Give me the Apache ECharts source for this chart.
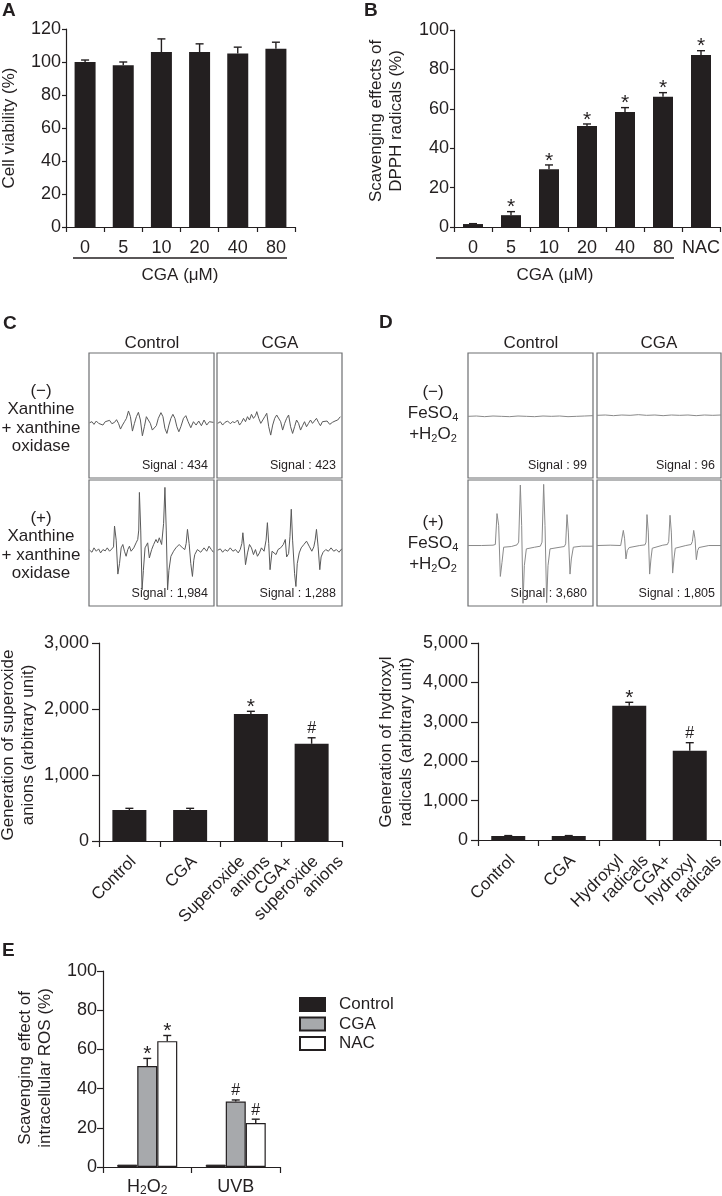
<!DOCTYPE html>
<html><head><meta charset="utf-8">
<script src="https://cdn.jsdelivr.net/npm/echarts@6/dist/echarts.min.js"></script>
<style>html,body{margin:0;padding:0;background:#fff}#c{width:722px;height:1196px}</style>
</head><body><div id="c"></div>
<script>
const FONT = "'Liberation Sans', Arial, Helvetica, sans-serif";
const INK = '#231f20';

// ---------- Panel A ----------
const catA = ['0', '5', '10', '20', '40', '80'];
const valA = [100, 98.1, 106, 106, 105.2, 108];
const errA = [101.2, 100, 114, 111, 109, 112];
const markA = ['', '', '', '', '', ''];

// ---------- Panel B ----------
const catB = ['0', '5', '10', '20', '40', '80', 'NAC'];
const valB = [1.5, 6, 29.3, 51.3, 58.4, 66.1, 87.3];
const errB = [1.7, 7.8, 31.5, 52.3, 60.6, 68.2, 89.5];
const markB = ['', '*', '*', '*', '*', '*', '*'];

// ---------- Panel C (bars) ----------
const catC = ['Control', 'CGA', 'Superoxide\nanions', 'CGA+\nsuperoxide\nanions'];
const valC = [470, 470, 1926, 1473];
const errC = [495, 495, 1965, 1564];
const markC = ['', '', '*', '#'];

// ---------- Panel D (bars) ----------
const catD = ['Control', 'CGA', 'Hydroxyl\nradicals', 'CGA+\nhydroxyl\nradicals'];
const valD = [100, 100, 3408, 2266];
const errD = [112, 112, 3495, 2470];
const markD = ['', '', '*', '#'];

// ---------- Panel E ----------
const catE = ['H2O2', 'UVB'];
const seriesE = ['Control', 'CGA', 'NAC'];
const eControl = [1.2, 1.2];
const eCGA = [51.5, 33.4];
const eNAC = [64.2, 22.4];
const eCGAerr = [55.4, 34.2];
const eNACerr = [67.1, 24.4];
const eCGAmark = ['*', '#'];
const eNACmark = ['*', '#'];

// ---------- ESR spectra (field position, amplitude) ----------
const esrC1ctrl = [[2,0],[9,3],[15,-5],[22,5],[29,-2],[35,1],[42,-7],[49,3],[55,-1],[62,7],[69,-3],[77,1],[83,9],[89,-2],[95,-19],[101,-7],[107,3],[113,13],[119,35],[125,18],[131,-25],[137,-2],[143,18],[149,31],[155,8],[161,-39],[167,-12],[173,18],[179,23],[185,-2],[191,-22],[197,-27],[203,-9],[209,13],[217,30],[223,18],[229,-17],[235,-32],[241,-7],[247,13],[253,25],[259,13],[265,-12],[271,-27],[277,-12],[285,13],[292,21],[299,3],[307,-15],[315,3],[323,-7],[331,5],[339,-9],[347,8],[355,-7],[363,3],[369,-2],[375,1]];
const esrC1cga = [[2,-2],[10,3],[17,-7],[24,1],[32,5],[40,-3],[47,3],[54,0],[62,8],[68,-7],[74,1],[80,13],[86,3],[92,18],[98,8],[104,25],[110,13],[116,21],[120,33],[126,13],[132,-2],[138,8],[144,18],[150,28],[156,-12],[162,-37],[168,-7],[174,13],[180,23],[186,28],[192,3],[198,-22],[204,-2],[210,13],[216,23],[222,-12],[228,-32],[234,-12],[240,8],[246,-2],[252,-22],[258,-9],[264,3],[270,-12],[276,-2],[282,8],[288,-2],[294,3],[300,13],[306,1],[312,-9],[318,3],[324,-2],[332,5],[340,-5],[348,1],[356,5],[364,8],[372,18]];
const esrC2ctrl = [[2,0],[9,-6],[15,7],[22,-3],[29,4],[35,-8],[42,2],[49,-2],[55,7],[62,-3],[69,4],[74,10],[77,72],[82,30],[87,-71],[92,-40],[97,7],[102,17],[107,-3],[112,-18],[117,2],[122,12],[127,-3],[135,7],[142,22],[147,32],[150,60],[152,172],[156,60],[160,-118],[164,-60],[169,7],[177,22],[182,-23],[189,2],[195,17],[202,32],[207,22],[212,37],[219,17],[225,80],[229,187],[233,60],[237,-118],[241,-60],[247,-18],[255,-3],[262,7],[272,17],[282,7],[289,2],[293,20],[297,62],[302,20],[307,-40],[312,-78],[316,-30],[319,-13],[327,2],[337,-6],[347,7],[355,-3],[362,12],[369,2],[375,-6]];
const esrC2cga = [[2,0],[10,4],[17,-6],[24,2],[32,-3],[40,7],[48,-3],[56,2],[64,-8],[70,2],[75,20],[78,52],[82,10],[86,-43],[92,-8],[98,17],[104,7],[110,-13],[116,2],[122,-18],[128,-8],[134,7],[142,-3],[148,30],[152,82],[156,20],[160,-58],[166,-3],[172,2],[178,-13],[184,2],[192,7],[200,17],[206,32],[210,-20],[216,-10],[220,40],[224,122],[228,30],[234,-70],[238,-108],[242,-40],[248,-8],[254,7],[262,17],[270,27],[278,12],[286,-3],[292,10],[296,30],[300,62],[305,10],[310,-58],[314,-20],[320,-6],[328,2],[336,-3],[344,7],[352,-3],[360,2],[368,-6],[376,4]];
const esrD1ctrl = [[0,0],[25,1],[50,-1],[75,1],[100,0],[125,-1],[150,1],[175,0],[200,-1],[225,1],[250,0],[275,1],[300,-1],[325,0],[350,1],[375,2]];
const esrD1cga = [[0,3],[25,4],[50,2],[75,4],[100,3],[125,5],[150,3],[175,4],[200,2],[225,4],[250,3],[275,4],[300,2],[325,4],[350,3],[375,4]];
const esrD2ctrl = [[0,0],[40,0],[75,1],[82,3],[87,95],[92,60],[97,-92],[102,-50],[107,-5],[130,-3],[147,2],[152,10],[157,180],[161,60],[165,-172],[169,-60],[175,-10],[200,-5],[217,-2],[222,10],[227,182],[231,60],[236,-170],[240,-60],[246,-10],[270,-6],[289,-3],[293,5],[297,92],[301,40],[306,-85],[310,-40],[316,-5],[340,-2],[375,-2]];
const esrD2cga = [[0,0],[40,1],[72,0],[76,3],[80,45],[84,20],[88,-40],[92,-15],[98,-6],[130,0],[146,2],[149,10],[152,92],[156,40],[160,-85],[164,-40],[168,-8],[200,1],[214,3],[218,12],[222,90],[226,40],[230,-82],[234,-40],[238,-8],[270,0],[286,3],[290,12],[294,45],[298,20],[302,-42],[306,-15],[310,-6],[340,0],[377,0]];

const signalC = ['Signal : 434', 'Signal : 423', 'Signal : 1,984', 'Signal : 1,288'];
const signalD = ['Signal : 99', 'Signal : 96', 'Signal : 3,680', 'Signal : 1,805'];

// ---------------------------------------------------------------
const chart = echarts.init(document.getElementById('c'), null, {renderer: 'canvas', width: 722, height: 1196});

const axLine = {show: true, lineStyle: {color: INK, width: 1.2}};
const tick = len => ({show: true, length: len, lineStyle: {color: INK, width: 1.2}});
const lblBase = {color: INK, fontFamily: FONT, fontSize: 18};
const comma = v => Number(v).toLocaleString('en-US');

function gridAt(l, t, w, h, show) {
  return {left: l, top: t, width: w, height: h, containLabel: false, outerBoundsMode: 'none',
    show: !!show, borderColor: '#6d6e71', borderWidth: 1.2, backgroundColor: 'transparent'};
}

const grids = [
  gridAt(66, 29, 229, 198),     // A
  gridAt(454, 30, 266, 197),    // B
  gridAt(99, 643, 243, 198),    // C bars
  gridAt(478, 643, 242, 197),   // D bars
  gridAt(103, 971, 177, 196),   // E
  gridAt(89, 353, 125, 125, true),   // C1 ctrl
  gridAt(217, 353, 125, 125, true),  // C1 cga
  gridAt(89, 480, 125, 126, true),   // C2 ctrl
  gridAt(217, 480, 125, 126, true),  // C2 cga
  gridAt(468, 353, 125, 125, true),  // D1 ctrl
  gridAt(597, 353, 124, 125, true),  // D1 cga
  gridAt(468, 480, 125, 126, true),  // D2 ctrl
  gridAt(597, 480, 124, 126, true)   // D2 cga
];

function catX(gi, data, tl, label) {
  return {gridIndex: gi, type: 'category', data: data, axisLine: axLine, axisTick: tick(tl),
    axisLabel: Object.assign({interval: 0, margin: 12}, lblBase, label || {}), splitLine: {show: false}};
}
function valY(gi, max, interval, tl, margin, fmt) {
  return {gridIndex: gi, type: 'value', min: 0, max: max, interval: interval, axisLine: axLine, axisTick: tick(tl),
    axisLabel: Object.assign({margin: margin, formatter: fmt}, lblBase), splitLine: {show: false}};
}

const xAxes = [
  catX(0, catA, 5), catX(1, catB, 5), catX(2, catC, 6, {show: false}), catX(3, catD, 6, {show: false}),
  catX(4, catE, 6, {margin: 10, formatter: v => v === 'H2O2' ? '{n|H}{s|2}{n|O}{s|2}' : '{n|' + v + '}',
    rich: {n: {fontSize: 18, lineHeight: 20, fontFamily: FONT, color: INK},
           s: {fontSize: 12, lineHeight: 12, verticalAlign: 'bottom', fontFamily: FONT, color: INK}}})
];
const yAxes = [
  valY(0, 120, 20, 4, 5), valY(1, 100, 20, 4, 5), valY(2, 3000, 1000, 7, 10, comma), valY(3, 5000, 1000, 7, 10, comma),
  valY(4, 100, 20, 6, 6)
];
const esrRanges = [
  [0, 377, -165, 208], [0, 377, -165, 208], [0, 377, -166, 209], [0, 377, -166, 209],
  [0, 375, -185, 190], [0, 375, -185, 190], [0, 375, -180, 195], [0, 377, -180, 195]
];
esrRanges.forEach((r, k) => {
  xAxes.push({gridIndex: 5 + k, type: 'value', min: r[0], max: r[1], show: false});
  yAxes.push({gridIndex: 5 + k, type: 'value', min: r[2], max: r[3], show: false});
});

function errRender(marks, offsets) {
  return function (params, api) {
    const i = params.dataIndex;
    const cat = api.value(0);
    const off = offsets ? offsets[i] : 0;
    const p0 = api.coord([cat, api.value(1)]);
    const p1 = api.coord([cat, api.value(2)]);
    const x = p0[0] + off;
    const ch = [
      {type: 'line', shape: {x1: x, y1: p0[1], x2: x, y2: p1[1]}, style: {stroke: INK, lineWidth: 1.4}},
      {type: 'line', shape: {x1: x - 4, y1: p1[1], x2: x + 4, y2: p1[1]}, style: {stroke: INK, lineWidth: 1.4}}
    ];
    const m = marks[i];
    if (m) {
      const isStar = m === '*';
      ch.push({type: 'text', x: x, y: p1[1] - (isStar ? 4 : 9),
        style: {text: m, fill: INK, fontFamily: FONT, fontSize: isStar ? 21 : 16,
          align: 'center', verticalAlign: 'middle', textAlign: 'center', textVerticalAlign: 'middle'}});
    }
    return {type: 'group', children: ch};
  };
}
// rotated, multi-line category labels (each line ends at the same height below the axis)
function rotLabelRender(cats) {
  return function (params, api) {
    const i = api.value(0);
    const p = api.coord([i, 0]);
    const lines = cats[i].split('\n');
    const n = lines.length;
    return {type: 'group', children: lines.map((ln, k) => ({
      type: 'text', x: p[0] + 4 + (k - (n - 1) / 2) * 25, y: p[1] + 18, rotation: Math.PI / 4,
      style: {text: ln, fill: INK, fontFamily: FONT, fontSize: 17,
        align: 'right', verticalAlign: 'middle', textAlign: 'right', textVerticalAlign: 'middle'}
    }))};
  };
}
function errData(vals, errs) { return vals.map((v, i) => [i, v, errs[i]]); }

const series = [];
function barSet(gi, vals, errs, marks, bw) {
  series.push({type: 'bar', name: 'bars' + gi, xAxisIndex: gi, yAxisIndex: gi, data: vals, barWidth: bw,
    itemStyle: {color: INK}, silent: true});
  series.push({type: 'custom', name: 'err' + gi, xAxisIndex: gi, yAxisIndex: gi, data: errData(vals, errs),
    renderItem: errRender(marks, null), z: 5, silent: true});
}
barSet(0, valA, errA, markA, 21);
barSet(1, valB, errB, markB, 20);
barSet(2, valC, errC, markC, 34);
barSet(3, valD, errD, markD, 34);
series.push({type: 'custom', name: 'labC', xAxisIndex: 2, yAxisIndex: 2, data: catC.map((c, i) => [i, 0]),
  renderItem: rotLabelRender(catC), clip: false, silent: true});
series.push({type: 'custom', name: 'labD', xAxisIndex: 3, yAxisIndex: 3, data: catD.map((c, i) => [i, 0]),
  renderItem: rotLabelRender(catD), clip: false, silent: true});

// Panel E grouped bars
series.push({type: 'bar', name: 'Control', xAxisIndex: 4, yAxisIndex: 4, data: eControl, barWidth: 20, barGap: '0%',
  itemStyle: {color: INK, borderColor: INK, borderWidth: 1}});
series.push({type: 'bar', name: 'CGA', xAxisIndex: 4, yAxisIndex: 4, data: eCGA, barWidth: 20, barGap: '0%',
  itemStyle: {color: '#a7a9ac', borderColor: INK, borderWidth: 1.2}});
series.push({type: 'bar', name: 'NAC', xAxisIndex: 4, yAxisIndex: 4, data: eNAC, barWidth: 20, barGap: '0%',
  itemStyle: {color: '#ffffff', borderColor: INK, borderWidth: 1.2}});
const eErrData = [], eMarks = [], eOff = [];
catE.forEach((c, i) => {
  eErrData.push([i, eCGA[i], eCGAerr[i]]); eMarks.push(eCGAmark[i]); eOff.push(0);
  eErrData.push([i, eNAC[i], eNACerr[i]]); eMarks.push(eNACmark[i]); eOff.push(20);
});
series.push({type: 'custom', name: 'errE', xAxisIndex: 4, yAxisIndex: 4, data: eErrData,
  renderItem: errRender(eMarks, eOff), z: 5, silent: true});

// ESR traces
const esrData = [esrC1ctrl, esrC1cga, esrC2ctrl, esrC2cga, esrD1ctrl, esrD1cga, esrD2ctrl, esrD2cga];
esrData.forEach((d, k) => {
  series.push({type: 'line', name: 'esr' + k, xAxisIndex: 5 + k, yAxisIndex: 5 + k, data: d,
    showSymbol: false, smooth: false, silent: true,
    lineStyle: {color: k < 4 ? '#5a5a5a' : '#8a8a8a', width: 1}});
});

// ---------- text graphics ----------
const g = [];
function txt(x, y, text, o) {
  g.push(Object.assign({type: 'text', x: x, y: y, silent: true,
    style: Object.assign({text: text, fill: INK, fontFamily: FONT, fontSize: 17,
      align: 'center', verticalAlign: 'middle', textAlign: 'center', textVerticalAlign: 'middle'}, o && o.style || {})},
    o && o.el || {}));
}
// panel letters
[['A', 2, 11], ['B', 364, 11], ['C', 3, 324], ['D', 379, 323], ['E', 2, 951]].forEach(p =>
  txt(p[1], p[2], p[0], {style: {fontWeight: 'bold', fontSize: 19, align: 'left', textAlign: 'left'}}));
// y titles
const rot = {el: {rotation: Math.PI / 2}, style: {lineHeight: 20}};
txt(9, 128, 'Cell viability (%)', rot);
txt(386, 121, 'Scavenging effects of\nDPPH radicals (%)', rot);
txt(18, 745, 'Generation of superoxide\nanions (arbitrary unit)', rot);
txt(396, 742, 'Generation of hydroxyl\nradicals (arbitrary unit)', rot);
txt(35, 1068, 'Scavenging effect of\nintracellular ROS (%)', rot);
// underline + CGA (µM)
g.push({type: 'line', silent: true, shape: {x1: 73, y1: 258, x2: 287, y2: 258}, style: {stroke: INK, lineWidth: 1.3}});
g.push({type: 'line', silent: true, shape: {x1: 436, y1: 258, x2: 674, y2: 258}, style: {stroke: INK, lineWidth: 1.3}});
txt(180, 275, 'CGA (\u03bcM)');
txt(555, 275, 'CGA (\u03bcM)');
// column headers
txt(152, 343, 'Control'); txt(280, 343, 'CGA');
txt(531, 343, 'Control'); txt(659, 343, 'CGA');
// row labels C
txt(41, 419, '(\u2212)\nXanthine\n+ xanthine\noxidase', {style: {lineHeight: 18.5}});
txt(41, 546, '(+)\nXanthine\n+ xanthine\noxidase', {style: {lineHeight: 18.5}});
// row labels D (rich subscripts)
const richD = {n: {fontSize: 17, lineHeight: 21, fontFamily: FONT, color: INK},
               s: {fontSize: 11, lineHeight: 11, verticalAlign: 'bottom', fontFamily: FONT, color: INK}};
txt(433, 413, '{n|(\u2212)}\n{n|FeSO}{s|4}\n{n|+H}{s|2}{n|O}{s|2}', {style: {rich: richD}});
txt(433, 543, '{n|(+)}\n{n|FeSO}{s|4}\n{n|+H}{s|2}{n|O}{s|2}', {style: {rich: richD}});
// signal labels
const boxes = [[214, 478], [342, 478], [214, 606], [342, 606]];
const boxesD = [[593, 478], [721, 478], [593, 606], [721, 606]];
signalC.forEach((s, i) => txt(boxes[i][0] - 6, boxes[i][1] - 12.5, s, {style: {fontSize: 12.5, align: 'right', textAlign: 'right'}}));
signalD.forEach((s, i) => txt(boxesD[i][0] - 6, boxesD[i][1] - 12.5, s, {style: {fontSize: 12.5, align: 'right', textAlign: 'right'}}));

const option = {
  animation: false,
  backgroundColor: '#ffffff',
  textStyle: {fontFamily: FONT, color: INK},
  grid: grids,
  xAxis: xAxes,
  yAxis: yAxes,
  legend: {data: seriesE, orient: 'vertical', left: 299, top: 996, padding: 0, itemWidth: 25, itemHeight: 13, itemGap: 2.5,
    icon: 'rect', selectedMode: false,
    textStyle: {fontSize: 17, lineHeight: 17, fontFamily: FONT, color: INK, padding: [0, 0, 0, 9]}},
  series: series,
  graphic: {elements: g}
};
chart.setOption(option);
</script></body></html>
